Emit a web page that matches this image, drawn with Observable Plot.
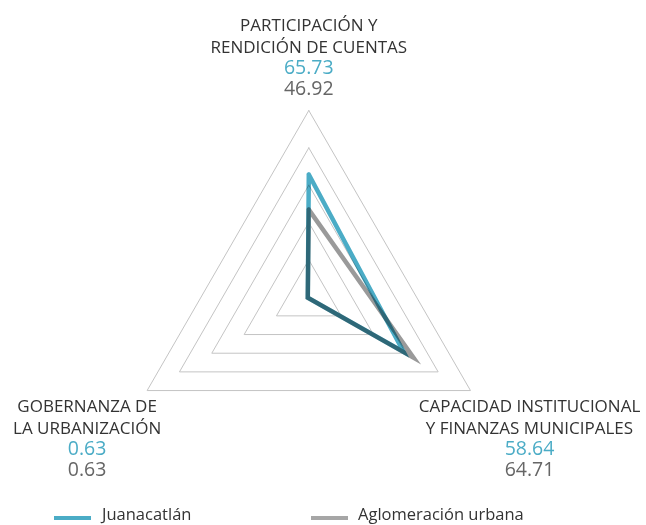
<!DOCTYPE html>
<html>
<head>
<meta charset="utf-8">
<script src="https://cdn.jsdelivr.net/npm/d3@7"></script>
<script src="https://cdn.jsdelivr.net/npm/@observablehq/plot@0.6"></script>
<style>
  body { margin: 0; background: #fff; font-family: "Open Sans", sans-serif; }
  #wrap { position: relative; width: 646px; height: 525px; overflow: hidden; }
  #legend { position: relative; height: 25px; width: 646px; }
  .sw { position: absolute; height: 4px; top: 16px; }
  .lt { position: absolute; top: 4px; font-size: 16.5px; color: #333; line-height: 20px; }
</style>
</head>
<body>
<div id="wrap">
  <div id="chart"></div>
  <div id="legend"></div>
</div>
<script>
// ---- data ----
const categories = ["PARTICIPACIÓN Y\nRENDICIÓN DE CUENTAS", "CAPACIDAD INSTITUCIONAL\nY FINANZAS MUNICIPALES", "GOBERNANZA DE\nLA URBANIZACIÓN"];
const seriesNames = ["Juanacatlán", "Aglomeración urbana"];
const juanacatlan = [65.73, 58.64, 0.63];
const aglomeracion = [46.92, 64.71, 0.63];
const levels = [20, 40, 60, 80, 100];
const valueLabels = [["65.73", "46.92"], ["58.64", "64.71"], ["0.63", "0.63"]];

// ---- styles ----
const colors = {"Juanacatlán": "#4bacc6", "Aglomeración urbana": "#9a9a9a"};
const numColors = ["#4bacc6", "#666666"];

// ---- geometry ----
const W = 646, H = 500;
const cx = 308.3, cy = 296.7, k = 1.867; // px per unit
const angles = [90, -30, 210].map(a => a * Math.PI / 180);
const pt = (i, r) => ({x: r * Math.cos(angles[i]), y: r * Math.sin(angles[i])});

const grid = levels.flatMap(l => [0, 1, 2, 0].map((i, j) => ({level: l, order: j, ...pt(i, l)})));
const seriesA = [0, 1, 2, 0].map(i => ({name: seriesNames[1], ...pt(i, aglomeracion[i])}));
const seriesJ = [0, 1, 2, 0].map(i => ({name: seriesNames[0], ...pt(i, juanacatlan[i])}));

// label blocks (offsets from outer vertex, in px)
const blockOffsets = [
  {dx: 0, dys: [-58, -37, -16]},
  {dx: 59, dys: [43, 64, 85]},
  {dx: -60, dys: [43, 64, 85]}
];
const textMarks = [];
categories.forEach((c, i) => {
  const v = pt(i, 100);
  const off = blockOffsets[i];
  textMarks.push(Plot.text([v], {x: "x", y: "y", text: () => c, dx: off.dx, dy: off.dys[0],
    lineAnchor: "bottom", lineHeight: 1.27, textAnchor: "middle", fontSize: 17, fill: "#333333",
    fontFamily: "Open Sans, sans-serif"}));
  valueLabels[i].forEach((t, j) => {
    textMarks.push(Plot.text([v], {x: "x", y: "y", text: () => t, dx: off.dx, dy: off.dys[1 + j],
      lineAnchor: "bottom", textAnchor: "middle", fontSize: 19.5, fill: numColors[j],
      fontFamily: "Open Sans, sans-serif"}));
  });
});

const chart = Plot.plot({
  width: W, height: H,
  margin: 0,
  x: {domain: [-cx / k, (W - cx) / k], axis: null},
  y: {domain: [-(H - cy) / k, cy / k], axis: null},
  marks: [
    Plot.line(grid, {x: "x", y: "y", z: "level", stroke: "#c4c4c4", strokeWidth: 1, strokeLinejoin: "miter"}),
    Plot.line(seriesA, {x: "x", y: "y", stroke: colors[seriesNames[1]], strokeWidth: 4.5, strokeLinejoin: "miter", strokeMiterlimit: 10}),
    Plot.line(seriesJ, {x: "x", y: "y", stroke: colors[seriesNames[0]], strokeWidth: 4.5, strokeLinejoin: "miter", strokeMiterlimit: 10, mixBlendMode: "multiply"}),
    ...textMarks
  ]
});
document.getElementById("chart").appendChild(chart);

// legend
const legend = document.getElementById("legend");
const legendPos = [{sw: 54, tx: 102}, {sw: 311, tx: 358}];
seriesNames.forEach((n, i) => {
  const s = document.createElement("div");
  s.className = "sw";
  s.style.left = legendPos[i].sw + "px";
  s.style.width = "37px";
  s.style.background = i === 0 ? colors[n] : "#a6a6a6";
  legend.appendChild(s);
  const t = document.createElement("div");
  t.className = "lt";
  t.style.left = legendPos[i].tx + "px";
  t.textContent = n;
  legend.appendChild(t);
});
</script>
</body>
</html>
